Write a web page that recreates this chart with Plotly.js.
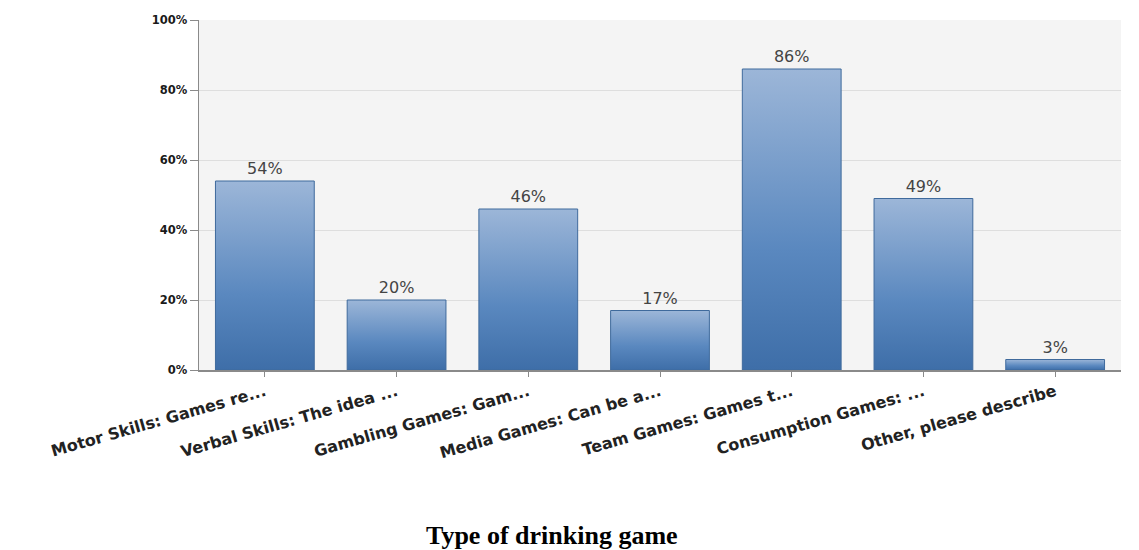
<!DOCTYPE html>
<html><head><meta charset="utf-8">
<script src="https://cdn.plot.ly/plotly-3.0.1.min.js"></script>
<style>html,body{margin:0;padding:0;background:#fff;}#chart{width:1139px;height:550px;}</style>
</head><body><div id="chart"></div>
<script>
const categories = ["Motor Skills: Games re...", "Verbal Skills: The idea ...", "Gambling Games: Gam...", "Media Games: Can be a...", "Team Games: Games t...", "Consumption Games: ...", "Other, please describe"];
const values = [54, 20, 46, 17, 86, 49, 3];
const valueLabels = values.map(v => v + "%");
const yTickVals = [0, 20, 40, 60, 80, 100];
const yTickText = yTickVals.map(v => v + "%");

const trace = {
  type: "bar", x: categories, y: values,
  text: valueLabels, textposition: "outside", cliponaxis: false,
  textfont: {family: "DejaVu Sans, sans-serif", size: 16, color: "#444"},
  marker: {color: "#5b87bd", line: {color: "#3f6a9c", width: 1}},
  hoverinfo: "none"
};
const layout = {
  width: 1139, height: 550,
  margin: {l: 199, r: 18, t: 20, b: 180},
  paper_bgcolor: "#ffffff", plot_bgcolor: "#f4f4f4",
  bargap: 0.25, showlegend: false,
  xaxis: {
    tickangle: -16, tickfont: {family: "DejaVu Sans, sans-serif", size: 16, color: "#222", weight: "bold"},
    showline: true, linecolor: "#8a8a8a", linewidth: 1.5,
    ticks: "outside", ticklen: 5, tickcolor: "#8a8a8a", showgrid: false
  },
  yaxis: {
    range: [0, 100], tickvals: yTickVals, ticktext: yTickText,
    tickfont: {family: "DejaVu Sans, sans-serif", size: 11.5, color: "#1a1a1a", weight: "bold"},
    showline: true, linecolor: "#8a8a8a", linewidth: 1.5,
    ticks: "outside", ticklen: 8, tickcolor: "#8a8a8a",
    showgrid: true, gridcolor: "#dedede", gridwidth: 1, zeroline: false
  },
  annotations: [{
    text: "<b>Type of drinking game</b>", xref: "paper", yref: "paper",
    x: (552 - 199) / 922, y: 0, yshift: -165, xanchor: "center", yanchor: "middle",
    showarrow: false, font: {family: "Liberation Serif, Times New Roman, serif", size: 26, color: "#000"}
  }]
};
function applyGradient(gd) {
  const svg = gd.querySelector("svg.main-svg");
  if (!svg) return;
  let defs = svg.querySelector("defs");
  if (!svg.querySelector("#barGrad")) {
    const ns = "http://www.w3.org/2000/svg";
    const lg = document.createElementNS(ns, "linearGradient");
    lg.setAttribute("id", "barGrad"); lg.setAttribute("x1", "0"); lg.setAttribute("y1", "0");
    lg.setAttribute("x2", "0"); lg.setAttribute("y2", "1");
    [["0", "#9cb6d8"], ["0.6", "#5a88bf"], ["1", "#3e6ea8"]].forEach(([o, c]) => {
      const s = document.createElementNS(ns, "stop");
      s.setAttribute("offset", o); s.setAttribute("stop-color", c); lg.appendChild(s);
    });
    defs.appendChild(lg);
  }
  gd.querySelectorAll(".bars .point path").forEach(p => { p.style.fill = "url(#barGrad)"; });
}
Plotly.newPlot("chart", [trace], layout, {staticPlot: true}).then(gd => {
  applyGradient(gd);
  gd.on("plotly_afterplot", () => applyGradient(gd));
});
</script></body></html>
